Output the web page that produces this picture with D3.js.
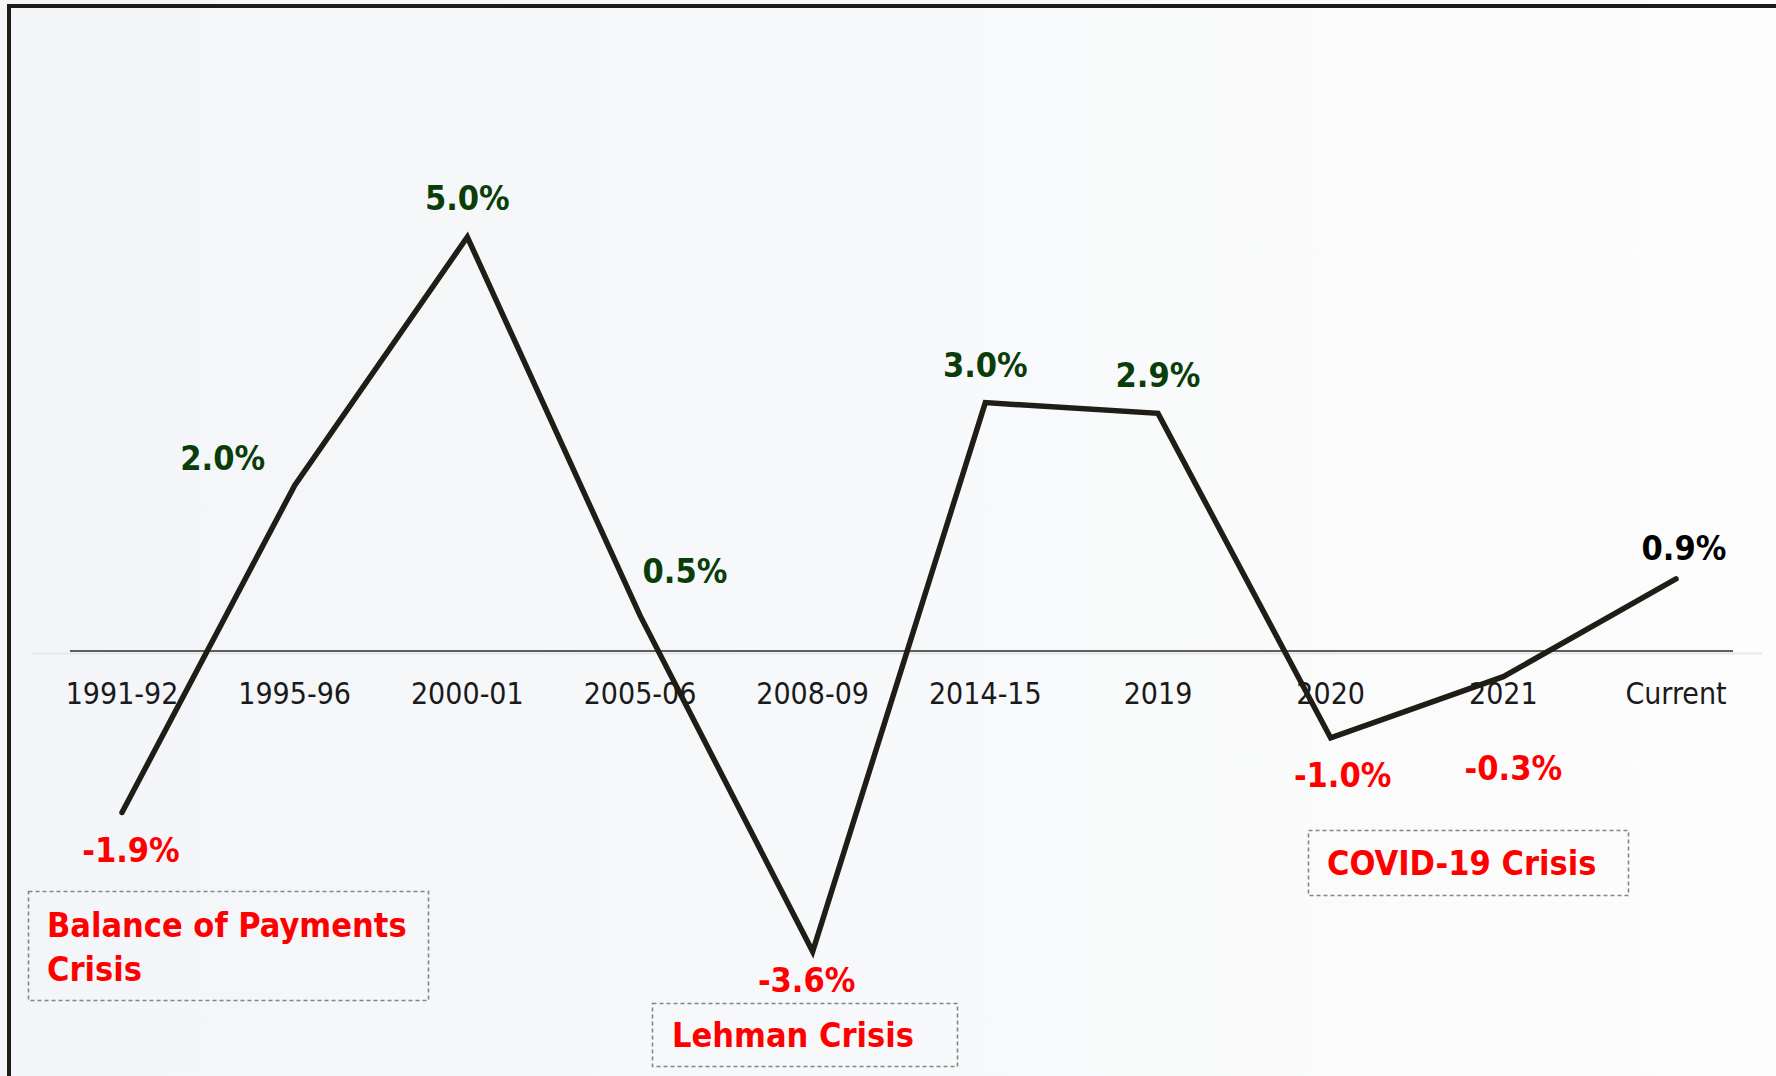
<!DOCTYPE html>
<html>
<head>
<meta charset="utf-8">
<script src="https://cdn.jsdelivr.net/npm/d3@7"></script>
<style>
  html,body{margin:0;padding:0;background:#fff;overflow:hidden}
  svg{display:block}
  .tick-label{font-family:"DejaVu Sans Condensed","DejaVu Sans",sans-serif;font-size:30px;fill:#1a1a1a}
  .val{font-family:"DejaVu Sans Condensed","DejaVu Sans",sans-serif;font-size:34px;font-weight:bold}
  .crisis{font-family:"DejaVu Sans Condensed","DejaVu Sans",sans-serif;font-size:34px;font-weight:bold;fill:#ff0000}
</style>
</head>
<body>
<svg id="chart"></svg>
<script>
// data
const periods = ['1991-92','1995-96','2000-01','2005-06','2008-09','2014-15','2019','2020','2021','Current'];
const growth  = [-1.95, 2.0, 5.0, 0.43, -3.63, 3.0, 2.87, -1.05, -0.31, 0.87];
const labels  = ['-1.9%','2.0%','5.0%','0.5%','-3.6%','3.0%','2.9%','-1.0%','-0.3%','0.9%'];
const crises  = [
  {lines:['Balance of Payments','Crisis']},
  {lines:['Lehman Crisis']},
  {lines:['COVID-19 Crisis']}
];

// layout (label nudges relative to each point, crisis box placement)
const labelOff = [[9,50],[-72,-15],[0,-27],[45,-32],[-6,40],[0,-26],[0,-26],[12,49],[10,103],[8,-19]];
const boxes = [
  {x:28, y:891, w:400, h:109, tx:47, ty:937, lh:44},
  {x:652,y:1003,w:305, h:63,  tx:672,ty:1047,lh:0},
  {x:1308,y:830,w:320, h:65,  tx:1327,ty:875,lh:0}
];

const W=1776, H=1076;
const GREEN='#0a3d0a', RED='#ff0000';
const svg=d3.select('#chart').attr('width',W).attr('height',H);

const defs=svg.append('defs');
const grad=defs.append('linearGradient').attr('id','bg').attr('x1','0').attr('x2','1').attr('y1','0').attr('y2','0');
grad.append('stop').attr('offset','0').attr('stop-color','#f3f5f8');
grad.append('stop').attr('offset','0.55').attr('stop-color','#f8f9fa');
grad.append('stop').attr('offset','1').attr('stop-color','#fdfdfd');
svg.append('rect').attr('width',W).attr('height',H).attr('fill','url(#bg)');

// frame (open at the right and bottom edges)
svg.append('path').attr('d',`M9,${H+5} L9,6 L${W+5},6`).attr('fill','none')
  .attr('stroke','#1d1c17').attr('stroke-width',4);

const x=d3.scalePoint().domain(periods).range([122,1676]);
const y=d3.scaleLinear().domain([0,5]).range([651,237]);

// zero line + faint shadow
svg.append('line').attr('x1',32).attr('x2',1762).attr('y1',y(0)+2.5).attr('y2',y(0)+2.5)
  .attr('stroke','#e6e8ea').attr('stroke-width',2);
svg.append('line').attr('x1',70).attr('x2',1733).attr('y1',y(0)).attr('y2',y(0))
  .attr('stroke','#2a2a2a').attr('stroke-width',1.3);

// category labels
svg.append('g').selectAll('text').data(periods).join('text')
  .attr('class','tick-label').attr('x',d=>x(d)).attr('y',704)
  .attr('text-anchor','middle').text(d=>d);

// the line
const line=d3.line().x((d,i)=>x(periods[i])).y(d=>y(d));
svg.append('path').datum(growth).attr('d',line).attr('fill','none')
  .attr('stroke','#1f1d16').attr('stroke-width',5.5)
  .attr('stroke-linejoin','miter').attr('stroke-linecap','round');

// value labels
svg.append('g').selectAll('text').data(growth).join('text')
  .attr('class','val').attr('text-anchor','middle')
  .attr('x',(d,i)=>x(periods[i])+labelOff[i][0])
  .attr('y',(d,i)=>y(d)+labelOff[i][1])
  .attr('fill',(d,i)=>i===periods.length-1?'#000':(d<0?RED:GREEN))
  .text((d,i)=>labels[i]);

// crisis call-outs
const cg=svg.append('g').selectAll('g').data(crises).join('g');
cg.append('rect')
  .attr('x',(d,i)=>boxes[i].x+0.5).attr('y',(d,i)=>boxes[i].y+0.5)
  .attr('width',(d,i)=>boxes[i].w).attr('height',(d,i)=>boxes[i].h)
  .attr('fill','none').attr('stroke','#858585').attr('stroke-width',1.6)
  .attr('stroke-dasharray','4,3');
cg.each(function(d,i){
  const b=boxes[i];
  d3.select(this).selectAll('text').data(d.lines).join('text')
    .attr('class','crisis').attr('x',b.tx).attr('y',(t,j)=>b.ty+j*b.lh).text(t=>t);
});
</script>
</body>
</html>
